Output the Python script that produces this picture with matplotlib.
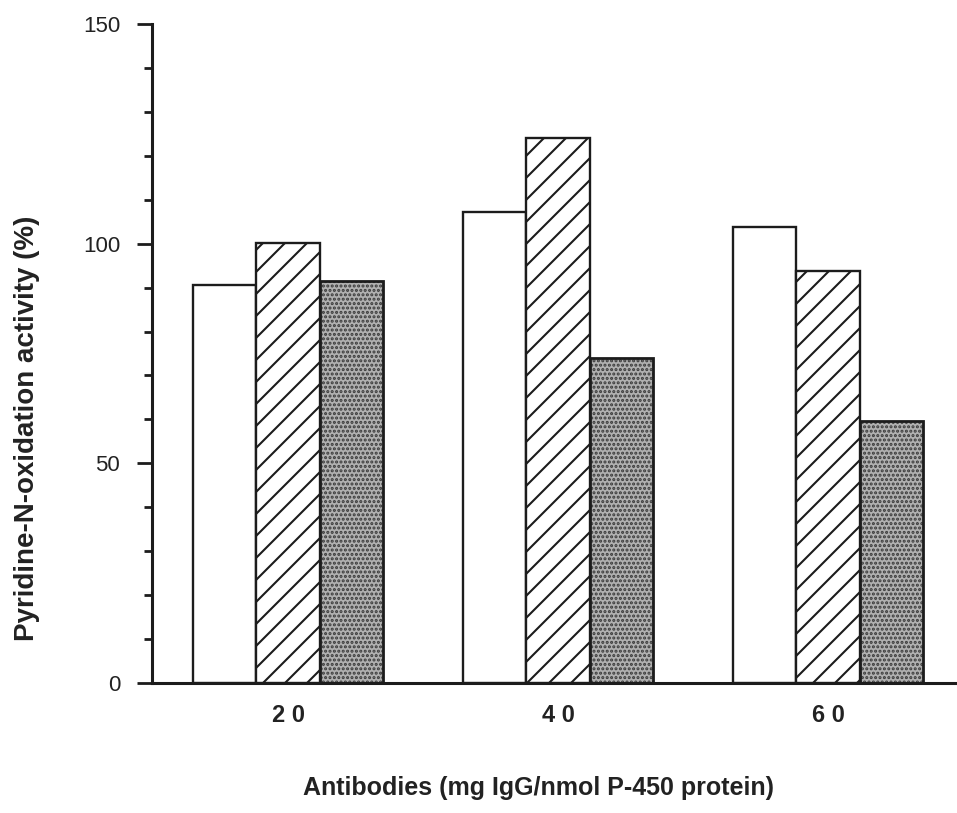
import matplotlib.pyplot as plt
import numpy as np
from matplotlib.ticker import MultipleLocator

# render at a higher dpi so the hatch lines get the wider spacing of the original;
# sizes below are written for 100 dpi and scaled by S
DPI = 132
S = 100 / DPI

plt.rcParams['font.family'] = ['Liberation Sans', 'DejaVu Sans']
plt.rcParams['hatch.linewidth'] = 1.5 * S

# Data
doses = ["2 0", "4 0", "6 0"]
open_bars = [90.6, 107.2, 103.8]
hatched_bars = [100.2, 124.1, 93.8]
stippled_bars = [91.5, 74.0, 59.6]

ink = '#1c1c1c'

fig = plt.figure(figsize=(957 / DPI, 813 / DPI), dpi=DPI)
ax = fig.add_axes([0.1588, 0.1599, 0.8412, 0.8106])

x = np.arange(len(doses))
w = 0.235
ax.bar(x - w, open_bars, w, facecolor='white', edgecolor=ink, linewidth=1.7 * S)
ax.bar(x, hatched_bars, w, facecolor='white', edgecolor=ink, linewidth=1.7 * S, hatch='//')
# stipple: grey fill with dark dots, outline drawn on top
ax.bar(x + w, stippled_bars, w, facecolor='#b0b0b0', edgecolor='#3a3a3a', linewidth=0,
       hatch='.....')
ax.bar(x + w, stippled_bars, w, facecolor='none', edgecolor=ink, linewidth=2.0 * S)

ax.set_xlim(-0.504, 2.478)
ax.set_ylim(0, 150)

ax.spines['top'].set_visible(False)
ax.spines['right'].set_visible(False)
for side in ['left', 'bottom']:
    ax.spines[side].set_linewidth(2.2 * S)
    ax.spines[side].set_color(ink)

ax.yaxis.set_major_locator(MultipleLocator(50))
ax.yaxis.set_minor_locator(MultipleLocator(10))
ax.tick_params(axis='y', which='major', length=11 * S, width=2 * S, pad=12 * S,
               labelsize=16 * S, color=ink, labelcolor='#222222')
ax.tick_params(axis='y', which='minor', length=6 * S, width=2 * S, color=ink)

ax.set_xticks(x)
ax.set_xticklabels(doses, fontsize=17 * S, fontweight='bold', color='#222222')
ax.tick_params(axis='x', length=0, pad=15 * S)

ax.set_ylabel("Pyridine-N-oxidation activity (%)", fontsize=20 * S, fontweight='bold',
              color='#222222')
ax.yaxis.set_label_coords((40 - 152) / 805, (683 - 428) / 659)
ax.set_xlabel("Antibodies (mg IgG/nmol P-450 protein)", fontsize=18 * S, fontweight='bold',
              color='#222222')
ax.xaxis.set_label_coords((539 - 152) / 805, (683 - 776) / 659)

fig.savefig("out.png", dpi=DPI)
